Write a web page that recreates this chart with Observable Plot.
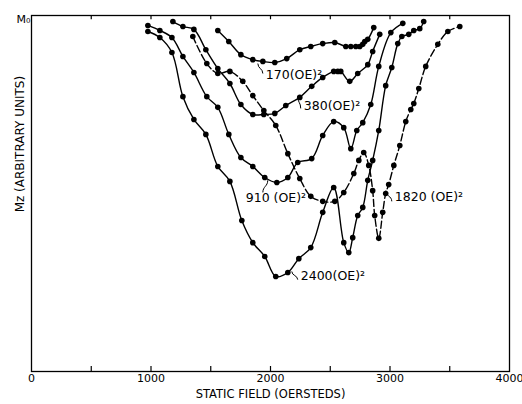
<!DOCTYPE html>
<html>
<head>
<meta charset="utf-8">
<script src="https://cdn.jsdelivr.net/npm/d3@7"></script>
<script src="https://cdn.jsdelivr.net/npm/@observablehq/plot@0.6"></script>
<style>
  html, body { margin: 0; padding: 0; background: white; }
</style>
</head>
<body>
<div id="chart"></div>
<script>
// ---- Data (field in oersteds, Mz as fraction of M0) ----
const field170 = [1559, 1651, 1752, 1852, 1936, 2036, 2136, 2245, 2337, 2437, 2538, 2630, 2672, 2714, 2747, 2772, 2789, 2814, 2864];
const mz170    = [0.958, 0.927, 0.890, 0.876, 0.871, 0.868, 0.879, 0.904, 0.913, 0.921, 0.924, 0.913, 0.913, 0.913, 0.913, 0.919, 0.927, 0.933, 0.966];

const field380 = [1183, 1267, 1359, 1459, 1559, 1660, 1752, 1852, 1944, 2036, 2128, 2245, 2345, 2437, 2529, 2563, 2588, 2663, 2730, 2814, 2855, 2914];
const mz380    = [0.983, 0.969, 0.961, 0.904, 0.851, 0.809, 0.750, 0.722, 0.722, 0.725, 0.747, 0.770, 0.801, 0.826, 0.843, 0.843, 0.843, 0.815, 0.837, 0.862, 0.899, 0.947];

const field910 = [974, 1074, 1175, 1267, 1359, 1467, 1559, 1651, 1752, 1852, 1952, 2053, 2145, 2228, 2345, 2437, 2529, 2613, 2672, 2722, 2772, 2839, 2906, 3007, 3107];
const mz910    = [0.972, 0.958, 0.938, 0.885, 0.840, 0.772, 0.742, 0.666, 0.601, 0.576, 0.545, 0.531, 0.545, 0.587, 0.598, 0.663, 0.702, 0.685, 0.626, 0.677, 0.699, 0.750, 0.857, 0.952, 0.978];

const field2400 = [974, 1074, 1175, 1267, 1359, 1459, 1559, 1660, 1760, 1852, 1952, 2044, 2145, 2237, 2337, 2437, 2529, 2613, 2655, 2688, 2730, 2772, 2814, 2855, 2906, 2964, 3015, 3065, 3099, 3157, 3199, 3249, 3282];
const mz2400    = [0.955, 0.938, 0.896, 0.772, 0.708, 0.666, 0.576, 0.534, 0.424, 0.362, 0.323, 0.267, 0.278, 0.317, 0.348, 0.447, 0.517, 0.362, 0.334, 0.376, 0.438, 0.461, 0.537, 0.593, 0.677, 0.803, 0.854, 0.921, 0.941, 0.947, 0.958, 0.963, 0.983];

const field1820 = [1350, 1467, 1559, 1660, 1768, 1852, 1944, 2044, 2145, 2245, 2337, 2437, 2538, 2613, 2697, 2739, 2780, 2822, 2855, 2872, 2906, 2939, 2964, 2989, 3032, 3082, 3132, 3174, 3199, 3241, 3299, 3400, 3484, 3584];
const mz1820    = [0.941, 0.865, 0.837, 0.843, 0.815, 0.775, 0.733, 0.691, 0.612, 0.542, 0.492, 0.478, 0.478, 0.503, 0.556, 0.593, 0.615, 0.579, 0.508, 0.438, 0.374, 0.447, 0.500, 0.525, 0.579, 0.635, 0.702, 0.736, 0.753, 0.795, 0.857, 0.919, 0.955, 0.969];

// curve labels and their leaders
const labelText  = ["170(OE)\u00B2", "380(OE)\u00B2", "910 (OE)\u00B2", "2400(OE)\u00B2", "1820 (OE)\u00B2"];
const labelField = [1961, 2279, 1793, 2253, 3040];
const labelMz    = [0.834, 0.747, 0.486, 0.267, 0.489];
const leadField1 = [1894, 2228, 1977, 2178, 2964];
const leadMz1    = [0.865, 0.772, 0.537, 0.281, 0.508];
const leadField2 = [1936, 2253, 1936, 2228, 3015];
const leadMz2    = [0.837, 0.739, 0.503, 0.258, 0.478];

// axis
const xTickLabels = [0, 1000, 2000, 3000, 4000];
const xMinorTicks = [500, 1000, 1500, 2000, 2500, 3000, 3500];
const xTitle = "STATIC FIELD (OERSTEDS)";
const yTitle = "Mz (ARBITRARY UNITS)";
const yTopLabel = "M\u2080";

// ---- build tables ----
const series = [
  {name: "170", dashed: false, x: field170, y: mz170},
  {name: "380", dashed: false, x: field380, y: mz380},
  {name: "910", dashed: false, x: field910, y: mz910},
  {name: "2400", dashed: false, x: field2400, y: mz2400},
  {name: "1820", dashed: true, x: field1820, y: mz1820}
];
const points = series.flatMap(s => s.x.map((x, i) => ({s: s.name, dashed: s.dashed, x, y: s.y[i]})));
const solid = points.filter(d => !d.dashed);
const dashed = points.filter(d => d.dashed);
const labels = labelText.map((t, i) => ({t, x: labelField[i], y: labelMz[i]}));
const leaders = leadField1.map((x1, i) => ({x1, y1: leadMz1[i], x2: leadField2[i], y2: leadMz2[i]}));

const chart = Plot.plot({
  width: 522,
  height: 404,
  marginLeft: 31,
  marginRight: 13,
  marginTop: 15,
  marginBottom: 33,
  style: {fontFamily: "DejaVu Sans", fontSize: "11px", background: "white", color: "black"},
  x: {domain: [0, 4000]},
  y: {domain: [0, 1], axis: null},
  marks: [
    Plot.frame({stroke: "black", strokeWidth: 1.3}),
    Plot.ruleX(xMinorTicks, {y1: 0, y2: 0.014, stroke: "black", strokeWidth: 1.2}),
    Plot.ruleX(xMinorTicks, {y1: 1, y2: 0.988, stroke: "black", strokeWidth: 1.2}),
    Plot.axisX({ticks: xTickLabels, tickSize: 0, tickPadding: 3, tickFormat: d => String(d), label: null, fontSize: 11, fontFamily: "DejaVu Sans"}),
    Plot.text([xTitle], {frameAnchor: "bottom", dy: 26, text: d => d, fontSize: 11.5}),
    Plot.text([yTitle], {frameAnchor: "left", y: [0.447], dx: -11, rotate: -90, text: d => d, fontSize: 12}),
    Plot.text([yTopLabel], {frameAnchor: "top-left", dx: -15, text: d => d, fontSize: 11}),
    Plot.line(solid, {x: "x", y: "y", z: "s", curve: "catmull-rom", stroke: "black", strokeWidth: 1.4}),
    Plot.line(dashed, {x: "x", y: "y", z: "s", curve: "catmull-rom", stroke: "black", strokeWidth: 1.4, strokeDasharray: "7,3"}),
    Plot.dot(points, {x: "x", y: "y", r: 2.8, fill: "black", stroke: "none"}),
    Plot.link(leaders, {x1: "x1", y1: "y1", x2: "x2", y2: "y2", curve: "bump-y", stroke: "black", strokeWidth: 1}),
    Plot.text(labels, {x: "x", y: "y", text: "t", textAnchor: "start", fontSize: 12.5, fontFamily: "DejaVu Sans"})
  ]
});
document.getElementById("chart").appendChild(chart);
</script>
</body>
</html>
